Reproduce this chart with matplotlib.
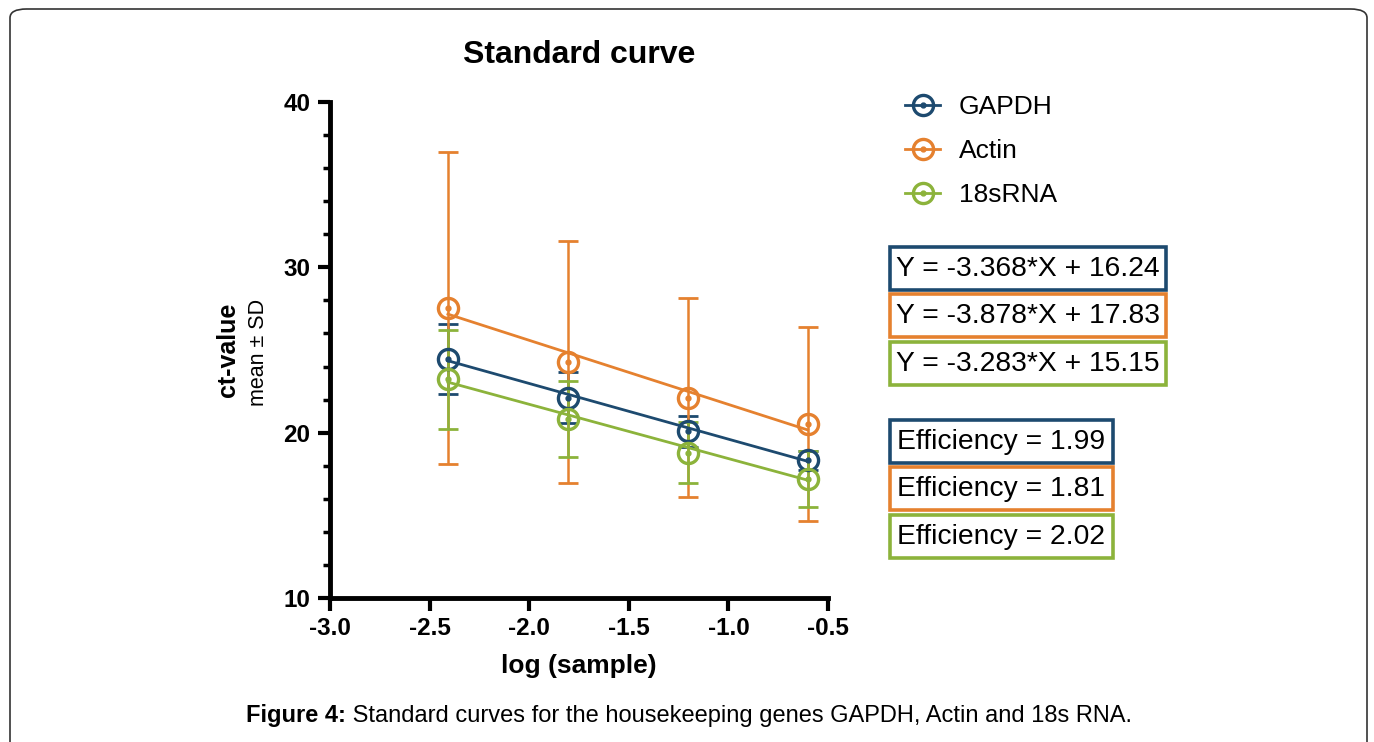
import numpy as np
import matplotlib.pyplot as plt
from matplotlib.patches import Rectangle, FancyBboxPatch
from matplotlib.legend_handler import HandlerTuple

plt.rcParams['font.family'] = ['Liberation Sans', 'DejaVu Sans']

genes = ['GAPDH', 'Actin', '18sRNA']
colors = ['#1d4a6f', '#e5812f', '#8cb33b']

log_sample = [-2.408, -1.806, -1.204, -0.602]

gapdh_mean = [24.45, 22.12, 20.08, 18.32]
gapdh_sd = [2.13, 1.53, 0.95, 0.6]
actin_mean = [27.53, 24.28, 22.12, 20.5]
actin_sd = [9.43, 7.3, 6.03, 5.87]
rna18s_mean = [23.22, 20.8, 18.8, 17.21]
rna18s_sd = [3.0, 2.3, 1.85, 1.7]

slopes = [-3.368, -3.878, -3.283]
intercepts = [16.24, 17.83, 15.15]
equations = ['Y = -3.368*X + 16.24', 'Y = -3.878*X + 17.83', 'Y = -3.283*X + 15.15']
efficiencies = ['Efficiency = 1.99', 'Efficiency = 1.81', 'Efficiency = 2.02']

means = [gapdh_mean, actin_mean, rna18s_mean]
sds = [gapdh_sd, actin_sd, rna18s_sd]

W, H = 1374, 742
fig = plt.figure(figsize=(W / 100, H / 100), dpi=100)

# outer rounded frame
fig.patches.append(FancyBboxPatch((10 / W, -0.05), (W - 17) / W, 1 - 9 / H + 0.05,
                                  boxstyle='round,pad=0,rounding_size=0.012',
                                  transform=fig.transFigure, fill=False,
                                  edgecolor='#333333', linewidth=1.2))

ax = fig.add_axes([330 / W, 1 - 598 / H, 498 / W, 496 / H])

x = np.array(log_sample)
handles = []
for i in range(3):
    c = colors[i]
    ax.errorbar(x, means[i], yerr=sds[i], fmt='none', ecolor=c, elinewidth=1.8,
                capsize=7.5, capthick=2.0, zorder=2)
    xfit = np.array([x.min(), x.max()])
    ax.plot(xfit, slopes[i] * xfit + intercepts[i], color=c, lw=2.0, zorder=3)
    ax.plot(x, means[i], 'o', ms=14.5, mfc='none', mec=c, mew=2.4, zorder=4)
    dot, = ax.plot(x, means[i], 'o', ms=3.5, color=c, zorder=5)
    h_line, = ax.plot([], [], color=c, lw=2.0, marker='o', ms=14.5, mfc='none', mec=c, mew=2.4)
    handles.append((h_line, dot))

ax.set_xlim(-3.0, -0.5)
ax.set_ylim(10, 40)
ax.set_xticks(np.arange(-3.0, -0.49, 0.5))
ax.set_xticklabels(['-3.0', '-2.5', '-2.0', '-1.5', '-1.0', '-0.5'])
ax.set_yticks([10, 20, 30, 40])
ax.set_yticks(np.arange(10, 41, 2), minor=True)
for s in ['top', 'right']:
    ax.spines[s].set_visible(False)
for s in ['left', 'bottom']:
    ax.spines[s].set_linewidth(3.5)
ax.tick_params(axis='both', which='major', length=9, width=3, labelsize=17.5, pad=5)
ax.tick_params(axis='y', which='minor', length=5, width=2.5)
for lab in ax.get_xticklabels() + ax.get_yticklabels():
    lab.set_fontweight('bold')

ax.set_title('Standard curve', fontsize=23, fontweight='bold', pad=28)
ax.set_xlabel('log (sample)', fontsize=19, fontweight='bold', labelpad=10)

fig.text(228 / W, 1 - 350 / H, 'ct-value', rotation=90, fontsize=18, fontweight='bold',
         ha='center', va='center')
fig.text(259 / W, 1 - 352 / H, 'mean ± SD', rotation=90, fontsize=15.5,
         ha='center', va='center')

fig.legend(handles, genes, handler_map={tuple: HandlerTuple(ndivide=1, pad=0)},
           loc='upper left', bbox_to_anchor=(881 / W, 1 - 71 / H), frameon=False,
           fontsize=19, handlelength=1.35, labelspacing=0.76, handletextpad=0.7)

# equation and efficiency boxes
eq_tops = [247, 294, 342]
eff_tops = [420, 467, 515]
for i in range(3):
    fig.patches.append(Rectangle((890 / W, 1 - (eq_tops[i] + 43) / H), 276 / W, 43 / H,
                                 transform=fig.transFigure, fill=False,
                                 edgecolor=colors[i], linewidth=2.6))
    fig.text(896 / W, 1 - (eq_tops[i] + 22) / H, equations[i], fontsize=20.3,
             ha='left', va='center')
    fig.patches.append(Rectangle((890 / W, 1 - (eff_tops[i] + 43) / H), 223 / W, 43 / H,
                                 transform=fig.transFigure, fill=False,
                                 edgecolor=colors[i], linewidth=2.6))
    fig.text(897 / W, 1 - (eff_tops[i] + 22) / H, efficiencies[i], fontsize=20.3,
             ha='left', va='center')

# caption
t1 = fig.text(246 / W, 1 - 722 / H, 'Figure 4:', fontsize=17, fontweight='bold',
              ha='left', va='baseline')
t2 = fig.text(0, 0, ' Standard curves for the housekeeping genes GAPDH, Actin and 18s RNA.',
              fontsize=17, ha='left', va='baseline')
fig.canvas.draw()
bb = t1.get_window_extent()
t2.set_position((bb.x1 / W, 1 - 722 / H))

fig.savefig('out.png', dpi=100)
